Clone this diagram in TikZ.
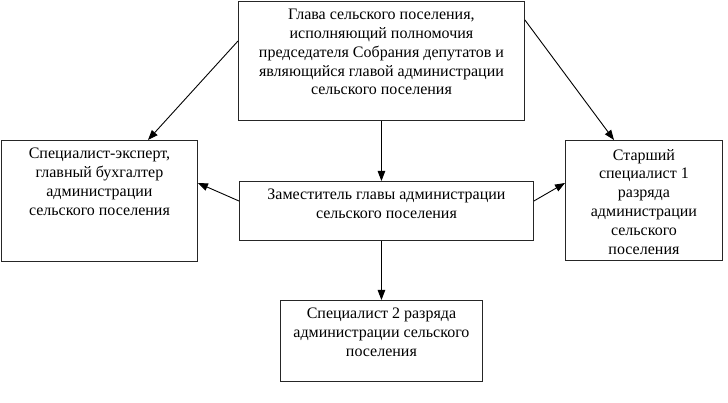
\documentclass[tikz,border=0pt]{standalone}
\usepackage{fontspec}
\setmainfont{Liberation Serif}
\usetikzlibrary{arrows.meta}
\begin{document}
\begin{tikzpicture}[x=1pt,y=-1pt,>={Triangle[length=10pt,width=7.5pt]}]
        \tikzstyle{post}=[rectangle,draw=black!85,line width=0.9pt,anchor=north west,inner sep=0pt]
        \tikzstyle{posttext}=[anchor=north,align=center,inner sep=0pt,font=\fontsize{16}{18.8}\selectfont]
        \tikzstyle{edge}=[draw,->,line width=0.9pt]
        \useasboundingbox (0,0) rectangle (728,403);
        % boxes
        \node [post,minimum width=286pt,minimum height=119pt] (head) at (238,1) {};
        \node [post,minimum width=196pt,minimum height=121pt] (expert) at (1,140) {};
        \node [post,minimum width=294pt,minimum height=59pt] (deputy) at (239,181) {};
        \node [post,minimum width=157pt,minimum height=120pt] (senior) at (565,140) {};
        \node [post,minimum width=202pt,minimum height=81pt] (spec2) at (280,300) {};
        % texts
        \node [posttext] (head-t) at ([yshift=-8pt]head.north) {Глава сельского поселения,\\исполняющий полномочия\\председателя Собрания депутатов и\\являющийся главой администрации\\сельского поселения};
        \node [posttext] (expert-t) at ([yshift=-8pt]expert.north) {Специалист-эксперт,\\главный бухгалтер\\администрации\\сельского поселения};
        \node [posttext] (deputy-t) at ([yshift=-8pt]deputy.north) {Заместитель главы администрации\\сельского поселения};
        \node [posttext] (senior-t) at ([yshift=-9pt]senior.north) {Старший\\специалист 1\\разряда\\администрации\\сельского\\поселения};
        \node [posttext] (spec2-t) at ([yshift=-8pt]spec2.north) {Специалист 2 разряда\\администрации сельского\\поселения};
        % links
        \draw[edge] ([yshift=-40pt]head.north west) -- ([xshift=147pt]expert.north west);
        \draw[edge] ([yshift=-19pt]head.north east) -- ([xshift=49pt]senior.north west);
        \draw[edge] (head.south) -- (head.south |- deputy.north);
        \draw[edge] (head.south |- deputy.south) -- (spec2.north);
        \draw[edge] ([yshift=-20pt]deputy.north west) -- ([yshift=-43pt]expert.north east);
        \draw[edge] ([yshift=-20pt]deputy.north east) -- ([yshift=-43pt]senior.north west);
\end{tikzpicture}
\end{document}
